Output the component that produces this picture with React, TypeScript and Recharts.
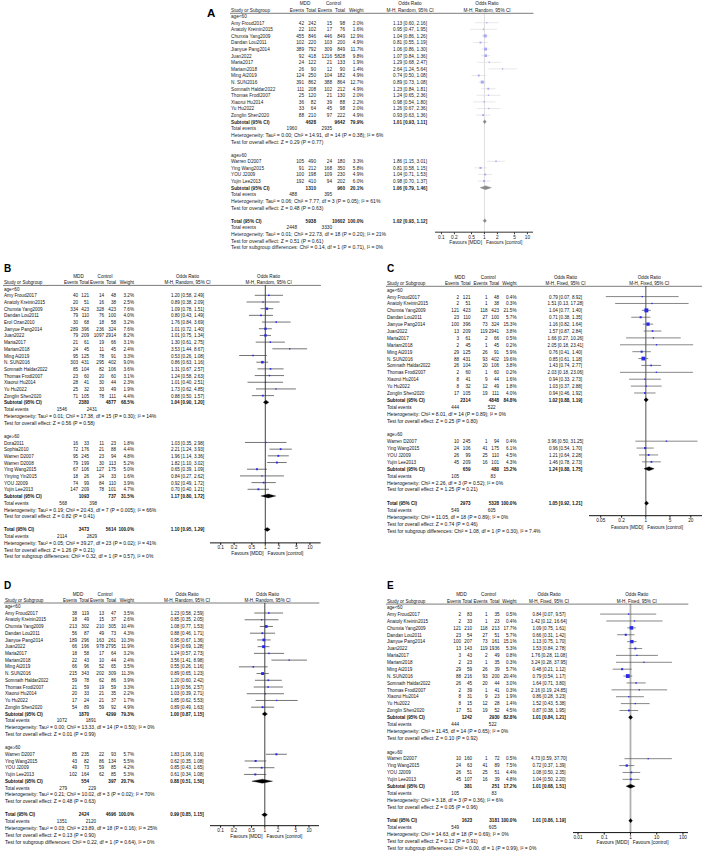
import React from 'react';
import { ScatterChart, Scatter, XAxis, YAxis, ReferenceLine } from 'recharts';

type Study = [string, number, number, number, number, number, number, number, number];
type Summary = [number, number, number, number, number, number, number, number];

const FONT = "'Liberation Sans', Arial, Helvetica, sans-serif";
const GROUPS = ['age<60', 'age≥60'];

const TICKS_RANDOM = [0.1, 0.2, 0.5, 1, 2, 5, 10];
const TICKS_C = [0.05, 0.2, 1, 5, 20];
const TICKS_E = [0.01, 0.1, 1, 10, 100];

// ---------- Panel A ----------
const A_YOUNG: Study[] = [
  ['Amy Froud2017', 42, 242, 15, 98, 2.0, 1.13, 0.6, 2.16],
  ['Anatoly Kreinin2015', 22, 102, 17, 76, 1.6, 0.95, 0.47, 1.95],
  ['Chunxia Yang2009', 455, 846, 446, 849, 12.9, 1.04, 0.86, 1.26],
  ['Dandan Lou2011', 102, 220, 103, 200, 4.9, 0.81, 0.55, 1.19],
  ['Jianyue Pang2014', 389, 792, 309, 849, 11.7, 1.06, 0.86, 1.3],
  ['Juan2022', 92, 418, 1216, 5828, 9.8, 1.07, 0.84, 1.36],
  ['Maria2017', 24, 122, 21, 133, 1.9, 1.29, 0.68, 2.47],
  ['Mariam2018', 26, 90, 12, 90, 1.4, 2.64, 1.24, 5.64],
  ['Ming Ai2019', 124, 250, 104, 182, 4.9, 0.74, 0.5, 1.08],
  ['N. SUN2016', 391, 862, 388, 864, 12.7, 0.89, 0.73, 1.08],
  ['Somnath Haldar2022', 111, 208, 102, 212, 4.9, 1.23, 0.84, 1.81],
  ['Thomas Frodl2007', 25, 120, 21, 130, 2.0, 1.24, 0.65, 2.36],
  ['Xiaorui Hu2014', 36, 82, 39, 88, 2.2, 0.98, 0.54, 1.8],
  ['Yu Hu2022', 33, 64, 45, 98, 2.0, 1.26, 0.67, 2.36],
  ['Zonglin Shen2020', 88, 210, 97, 222, 4.9, 0.93, 0.63, 1.36],
];
const A_OLD: Study[] = [
  ['Warren D2007', 105, 490, 24, 180, 3.3, 1.86, 1.15, 3.01],
  ['Ying Wang2015', 91, 212, 168, 350, 5.8, 0.81, 0.58, 1.15],
  ['YOU J2009', 100, 198, 109, 230, 4.9, 1.04, 0.71, 1.53],
  ['Yujin Lee2013', 192, 410, 94, 202, 6.0, 0.98, 0.7, 1.37],
];
const A_SUMMARY: Summary[] = [
  [4628, 9642, 79.9, 1.01, 0.93, 1.11, 1960, 2935],
  [1310, 960, 20.1, 1.06, 0.79, 1.46, 488, 395],
  [5938, 10602, 100.0, 1.02, 0.93, 1.12, 2448, 3330],
];
const A_HET = [
  'Heterogeneity: Tau² = 0.00; Chi² = 14.91, df = 14 (P = 0.38); I² = 6%',
  'Heterogeneity: Tau² = 0.06; Chi² = 7.77, df = 3 (P = 0.05); I² = 61%',
  'Heterogeneity: Tau² = 0.01; Chi² = 22.73, df = 18 (P = 0.20); I² = 21%',
];
const A_OVERALL = [
  'Test for overall effect: Z = 0.29 (P = 0.77)',
  'Test for overall effect: Z = 0.48 (P = 0.63)',
  'Test for overall effect: Z = 0.51 (P = 0.61)',
];
const A_SUBGROUP = 'Test for subgroup differences: Chi² = 0.14, df = 1 (P = 0.71), I² = 0%';

// ---------- Panel B ----------
const B_YOUNG: Study[] = [
  ['Amy Froud2017', 40, 121, 14, 48, 3.2, 1.2, 0.58, 2.49],
  ['Anatoly Kreinin2015', 20, 51, 16, 38, 2.5, 0.89, 0.38, 2.09],
  ['Chunxia Yang2009', 334, 423, 328, 423, 7.6, 1.09, 0.78, 1.51],
  ['Dandan Lou2011', 79, 110, 76, 100, 4.0, 0.8, 0.43, 1.49],
  ['Erol Ozan2010', 30, 68, 18, 58, 3.2, 1.76, 0.84, 3.69],
  ['Jianyue Pang2014', 289, 396, 236, 324, 7.6, 1.01, 0.72, 1.4],
  ['Juan2022', 79, 209, 1097, 2914, 8.2, 1.01, 0.75, 1.34],
  ['Maria2017', 21, 61, 19, 66, 3.1, 1.3, 0.61, 2.75],
  ['Mariam2018', 24, 45, 11, 45, 2.4, 3.53, 1.44, 8.67],
  ['Ming Ai2019', 95, 125, 78, 91, 3.3, 0.53, 0.26, 1.08],
  ['N. SUN2016', 303, 431, 295, 402, 9.0, 0.86, 0.63, 1.16],
  ['Somnath Haldar2022', 85, 104, 82, 106, 3.6, 1.31, 0.67, 2.57],
  ['Thomas Frodl2007', 23, 60, 20, 60, 3.1, 1.24, 0.58, 2.63],
  ['Xiaorui Hu2014', 28, 41, 30, 44, 2.3, 1.01, 0.4, 2.51],
  ['Yu Hu2022', 25, 32, 33, 49, 1.9, 1.73, 0.62, 4.85],
  ['Zonglin Shen2020', 71, 105, 78, 111, 4.4, 0.88, 0.5, 1.57],
];
const B_OLD: Study[] = [
  ['Dora2011', 16, 33, 11, 23, 1.8, 1.03, 0.35, 2.98],
  ['Sophia2010', 72, 176, 21, 88, 4.4, 2.21, 1.24, 3.93],
  ['Warren D2007', 95, 245, 23, 94, 4.8, 1.96, 1.14, 3.36],
  ['Warren D2008', 79, 199, 30, 113, 5.2, 1.82, 1.1, 3.02],
  ['Ying Wang2015', 67, 106, 127, 175, 5.0, 0.65, 0.39, 1.09],
  ['Yinying Yin2015', 18, 26, 24, 33, 1.6, 0.84, 0.27, 2.62],
  ['YOU J2009', 74, 99, 84, 110, 3.9, 0.92, 0.49, 1.72],
  ['Yujin Lee2013', 147, 209, 78, 101, 4.7, 0.7, 0.4, 1.21],
];
const B_SUMMARY: Summary[] = [
  [2380, 4877, 68.5, 1.04, 0.9, 1.2, 1546, 2431],
  [1093, 737, 31.5, 1.17, 0.8, 1.72, 568, 398],
  [3473, 5614, 100.0, 1.1, 0.95, 1.29, 2114, 2829],
];
const B_HET = [
  'Heterogeneity: Tau² = 0.01; Chi² = 17.38, df = 15 (P = 0.30); I² = 14%',
  'Heterogeneity: Tau² = 0.19; Chi² = 20.43, df = 7 (P = 0.005); I² = 66%',
  'Heterogeneity: Tau² = 0.05; Chi² = 39.27, df = 23 (P = 0.02); I² = 41%',
];
const B_OVERALL = [
  'Test for overall effect: Z = 0.56 (P = 0.58)',
  'Test for overall effect: Z = 0.82 (P = 0.41)',
  'Test for overall effect: Z = 1.26 (P = 0.21)',
];
const B_SUBGROUP = 'Test for subgroup differences: Chi² = 0.32, df = 1 (P = 0.57), I² = 0%';

// ---------- Panel C ----------
const C_YOUNG: Study[] = [
  ['Amy Froud2017', 2, 121, 1, 48, 0.4, 0.79, 0.07, 8.92],
  ['Anatoly Kreinin2015', 2, 51, 1, 38, 0.3, 1.51, 0.13, 17.28],
  ['Chunxia Yang2009', 121, 423, 118, 423, 21.5, 1.04, 0.77, 1.4],
  ['Dandan Lou2011', 23, 110, 27, 100, 5.7, 0.71, 0.38, 1.35],
  ['Jianyue Pang2014', 100, 396, 73, 324, 15.3, 1.16, 0.82, 1.64],
  ['Juan2022', 13, 209, 119, 2941, 3.8, 1.57, 0.87, 2.84],
  ['Maria2017', 3, 61, 2, 66, 0.5, 1.66, 0.27, 10.26],
  ['Mariam2018', 2, 45, 1, 45, 0.2, 2.05, 0.18, 23.41],
  ['Ming Ai2019', 29, 125, 26, 91, 5.9, 0.76, 0.41, 1.4],
  ['N. SUN2016', 88, 431, 93, 402, 19.6, 0.85, 0.61, 1.18],
  ['Somnath Haldar2022', 26, 104, 20, 106, 3.8, 1.43, 0.74, 2.77],
  ['Thomas Frodl2007', 2, 60, 1, 60, 0.2, 2.03, 0.18, 23.06],
  ['Xiaorui Hu2014', 8, 41, 9, 44, 1.6, 0.94, 0.33, 2.73],
  ['Yu Hu2022', 8, 32, 12, 49, 1.8, 1.03, 0.37, 2.88],
  ['Zonglin Shen2020', 17, 105, 19, 111, 4.0, 0.94, 0.46, 1.92],
];
const C_OLD: Study[] = [
  ['Warren D2007', 10, 245, 1, 94, 0.4, 3.96, 0.5, 31.25],
  ['Ying Wang2015', 24, 106, 41, 175, 6.1, 0.96, 0.54, 1.7],
  ['YOU J2009', 26, 99, 25, 110, 4.5, 1.21, 0.64, 2.28],
  ['Yujin Lee2013', 45, 209, 16, 101, 4.3, 1.46, 0.78, 2.73],
];
const C_SUMMARY: Summary[] = [
  [2314, 4848, 84.8, 1.02, 0.88, 1.19, 444, 522],
  [659, 480, 15.2, 1.24, 0.88, 1.75, 105, 83],
  [2973, 5328, 100.0, 1.05, 0.92, 1.21, 549, 605],
];
const C_HET = [
  'Heterogeneity: Chi² = 8.01, df = 14 (P = 0.89); I² = 0%',
  'Heterogeneity: Chi² = 2.26, df = 3 (P = 0.52); I² = 0%',
  'Heterogeneity: Chi² = 11.05, df = 18 (P = 0.89); I² = 0%',
];
const C_OVERALL = [
  'Test for overall effect: Z = 0.25 (P = 0.80)',
  'Test for overall effect: Z = 1.25 (P = 0.21)',
  'Test for overall effect: Z = 0.74 (P = 0.46)',
];
const C_SUBGROUP = 'Test for subgroup differences: Chi² = 1.08, df = 1 (P = 0.30), I² = 7.4%';

// ---------- Panel D ----------
const D_YOUNG: Study[] = [
  ['Amy Froud2017', 38, 119, 13, 47, 3.5, 1.23, 0.58, 2.59],
  ['Anatoly Kreinin2015', 18, 49, 15, 37, 2.6, 0.85, 0.35, 2.05],
  ['Chunxia Yang2009', 213, 302, 210, 305, 10.4, 1.08, 0.77, 1.53],
  ['Dandan Lou2011', 56, 87, 49, 73, 4.3, 0.88, 0.46, 1.71],
  ['Jianyue Pang2014', 189, 296, 163, 261, 10.3, 0.95, 0.67, 1.36],
  ['Juan2022', 66, 196, 978, 2795, 11.9, 0.94, 0.69, 1.28],
  ['Maria2017', 18, 58, 17, 64, 3.2, 1.24, 0.57, 2.73],
  ['Mariam2018', 22, 43, 10, 44, 2.4, 3.56, 1.41, 8.98],
  ['Ming Ai2019', 66, 96, 52, 65, 3.5, 0.55, 0.26, 1.16],
  ['N. SUN2016', 215, 343, 202, 309, 11.3, 0.89, 0.65, 1.23],
  ['Somnath Haldar2022', 59, 78, 62, 86, 3.9, 1.2, 0.6, 2.42],
  ['Thomas Frodl2007', 21, 59, 19, 59, 3.3, 1.19, 0.56, 2.57],
  ['Xiaorui Hu2014', 20, 33, 21, 35, 2.2, 1.03, 0.39, 2.71],
  ['Yu Hu2022', 17, 24, 21, 37, 1.7, 1.85, 0.62, 5.53],
  ['Zonglin Shen2020', 54, 89, 59, 92, 4.9, 0.89, 0.49, 1.63],
];
const D_OLD: Study[] = [
  ['Warren D2007', 85, 235, 22, 93, 5.7, 1.83, 1.06, 3.16],
  ['Ying Wang2015', 43, 82, 86, 134, 5.5, 0.62, 0.35, 1.08],
  ['YOU J2009', 49, 73, 59, 85, 4.2, 0.85, 0.43, 1.65],
  ['Yujin Lee2013', 102, 164, 62, 85, 5.3, 0.61, 0.34, 1.08],
];
const D_SUMMARY: Summary[] = [
  [1870, 4299, 79.3, 1.0, 0.87, 1.15, 1072, 1891],
  [554, 397, 20.7, 0.88, 0.51, 1.5, 279, 229],
  [2424, 4696, 100.0, 0.99, 0.85, 1.15, 1351, 2120],
];
const D_HET = [
  'Heterogeneity: Tau² = 0.00; Chi² = 13.33, df = 14 (P = 0.50); I² = 0%',
  'Heterogeneity: Tau² = 0.21; Chi² = 10.02, df = 3 (P = 0.02); I² = 70%',
  'Heterogeneity: Tau² = 0.03; Chi² = 23.89, df = 18 (P = 0.16); I² = 25%',
];
const D_OVERALL = [
  'Test for overall effect: Z = 0.01 (P = 0.99)',
  'Test for overall effect: Z = 0.48 (P = 0.63)',
  'Test for overall effect: Z = 0.13 (P = 0.90)',
];
const D_SUBGROUP = 'Test for subgroup differences: Chi² = 0.22, df = 1 (P = 0.64), I² = 0%';

// ---------- Panel E ----------
const E_YOUNG: Study[] = [
  ['Amy Froud2017', 2, 83, 1, 35, 0.5, 0.84, 0.07, 9.57],
  ['Anatoly Kreinin2015', 2, 33, 1, 23, 0.4, 1.42, 0.12, 16.64],
  ['Chunxia Yang2009', 121, 210, 118, 213, 17.7, 1.09, 0.75, 1.61],
  ['Dandan Lou2011', 23, 54, 27, 51, 5.7, 0.66, 0.31, 1.42],
  ['Jianyue Pang2014', 100, 207, 73, 161, 15.1, 1.13, 0.75, 1.7],
  ['Juan2022', 13, 143, 119, 1936, 5.3, 1.53, 0.84, 2.78],
  ['Maria2017', 3, 43, 2, 49, 0.8, 1.76, 0.28, 11.08],
  ['Mariam2018', 2, 23, 1, 35, 0.3, 3.24, 0.28, 37.95],
  ['Ming Ai2019', 29, 59, 26, 39, 5.7, 0.48, 0.21, 1.12],
  ['N. SUN2016', 88, 216, 93, 200, 20.4, 0.79, 0.54, 1.17],
  ['Somnath Haldar2022', 26, 45, 20, 44, 3.0, 1.64, 0.71, 3.8],
  ['Thomas Frodl2007', 2, 39, 1, 41, 0.3, 2.16, 0.19, 24.85],
  ['Xiaorui Hu2014', 8, 31, 9, 23, 1.9, 0.86, 0.28, 3.23],
  ['Yu Hu2022', 8, 15, 12, 28, 1.4, 1.52, 0.43, 5.38],
  ['Zonglin Shen2020', 17, 51, 19, 52, 4.5, 0.87, 0.38, 1.95],
];
const E_OLD: Study[] = [
  ['Warren D2007', 10, 160, 1, 72, 0.5, 4.73, 0.59, 37.7],
  ['Ying Wang2015', 24, 63, 41, 89, 7.5, 0.72, 0.37, 1.39],
  ['YOU J2009', 26, 51, 25, 51, 4.4, 1.08, 0.5, 2.35],
  ['Yujin Lee2013', 45, 107, 16, 39, 4.8, 1.04, 0.5, 2.2],
];
const E_SUMMARY: Summary[] = [
  [1242, 2930, 82.8, 1.01, 0.84, 1.21, 444, 522],
  [381, 251, 17.2, 1.01, 0.68, 1.51, 105, 83],
  [1623, 3181, 100.0, 1.01, 0.86, 1.19, 549, 605],
];
const E_HET = [
  'Heterogeneity: Chi² = 11.45, df = 14 (P = 0.65); I² = 0%',
  'Heterogeneity: Chi² = 3.18, df = 3 (P = 0.36); I² = 6%',
  'Heterogeneity: Chi² = 14.63, df = 18 (P = 0.69); I² = 0%',
];
const E_OVERALL = [
  'Test for overall effect: Z = 0.10 (P = 0.92)',
  'Test for overall effect: Z = 0.05 (P = 0.96)',
  'Test for overall effect: Z = 0.12 (P = 0.91)',
];
const E_SUBGROUP = 'Test for subgroup differences: Chi² = 0.00, df = 1 (P = 0.99), I² = 0%';

// ---------- Panel data bundles ----------
const PANELS_DATA = {
  A: { young: A_YOUNG, old: A_OLD, summary: A_SUMMARY, het: A_HET, overall: A_OVERALL, subgroup: A_SUBGROUP, method: 'Random', ticks: TICKS_RANDOM },
  B: { young: B_YOUNG, old: B_OLD, summary: B_SUMMARY, het: B_HET, overall: B_OVERALL, subgroup: B_SUBGROUP, method: 'Random', ticks: TICKS_RANDOM },
  C: { young: C_YOUNG, old: C_OLD, summary: C_SUMMARY, het: C_HET, overall: C_OVERALL, subgroup: C_SUBGROUP, method: 'Fixed', ticks: TICKS_C },
  D: { young: D_YOUNG, old: D_OLD, summary: D_SUMMARY, het: D_HET, overall: D_OVERALL, subgroup: D_SUBGROUP, method: 'Random', ticks: TICKS_RANDOM },
  E: { young: E_YOUNG, old: E_OLD, summary: E_SUMMARY, het: E_HET, overall: E_OVERALL, subgroup: E_SUBGROUP, method: 'Fixed', ticks: TICKS_E },
};

// ---------- Layout (positions & styles) ----------
const STYLE_DARK = { textFill: '#111', nullStroke: '#111', nullWidth: 0.8, ciStroke: '#3a3a3a', ciWidth: 0.7, sqFill: '#2a2ae6', diamondFill: '#000', axisStroke: '#111' };
const STYLE_GRAY = { textFill: '#111', nullStroke: '#8a8a8a', nullWidth: 1.5, ciStroke: '#555', ciWidth: 0.7, sqFill: '#2a2ae6', diamondFill: '#000', axisStroke: '#111' };
const STYLE_FAINT = { textFill: '#1a1a1a', nullStroke: '#c8c8c8', nullWidth: 0.6, ciStroke: '#d0d0d0', ciWidth: 0.5, sqFill: '#a8a8f0', diamondFill: '#8a8a8a', axisStroke: '#333' };

const LAYOUTS: Record<string, any> = {
  A: { ...STYLE_FAINT, label: 'A', labelX: 207, labelY: 16.5, labelSize: 11.5, fs: 5.1, nameX: 231, ev1R: 304, tot1R: 316, ev2R: 332, tot2R: 345, wR: 363.5, orC: 410, y0: 16.4, p: 6.6, h1Y: 3.8, h2Y: 10.3, ulY: 13.3, x1: 484, ppd: 43, ext: 0.15, axisY: 232.5, favY: 242, teOff1: -7, teOff2: 0, dh: 0.3, hdrOff: 3 },
  B: { ...STYLE_DARK, label: 'B', labelX: 4, labelY: 272, labelSize: 10, fs: 5.0, nameX: 4, ev1R: 78, tot1R: 89, ev2R: 104, tot2R: 116, wR: 134, orC: 187.5, y0: 289, p: 6.69, h1Y: 276.3, h2Y: 282.4, ulY: 285.4, x1: 265.6, ppd: 44.6, ext: 0.24, axisY: 543.3, favY: 553, teOff1: -11, teOff2: -7, dh: 0.3, hdrOff: 3 },
  C: { ...STYLE_GRAY, label: 'C', labelX: 387, labelY: 272, labelSize: 10, fs: 5.0, nameX: 387, ev1R: 459, tot1R: 470.5, ev2R: 487.5, tot2R: 499, wR: 516.5, orC: 565.5, y0: 290, p: 6.886, h1Y: 277, h2Y: 283.2, ulY: 286.3, x1: 645.3, ppd: 34.6, ext: 0.34, axisY: 516, favY: 527, teOff1: 0, teOff2: 8, dh: 0.3, hdrOff: 4 },
  D: { ...STYLE_DARK, label: 'D', labelX: 4, labelY: 588.5, labelSize: 10, fs: 5.0, nameX: 5, ev1R: 77, tot1R: 89, ev2R: 104, tot2R: 116, wR: 134, orC: 187, y0: 606.3, p: 6.726, h1Y: 594, h2Y: 600.1, ulY: 603, x1: 264.5, ppd: 44.2, ext: 0.24, axisY: 825.7, favY: 836.7, teOff1: -10, teOff2: -8, dh: 0.3, hdrOff: 3 },
  E: { ...STYLE_GRAY, nullStroke: '#b0b0b0', nullWidth: 1.8, label: 'E', labelX: 387, labelY: 589, labelSize: 10, fs: 5.0, nameX: 387, ev1R: 461, tot1R: 472, ev2R: 487.5, tot2R: 499.5, wR: 516.5, orC: 549, y0: 607.3, p: 6.886, h1Y: 594.7, h2Y: 601.1, ulY: 604.1, x1: 630.8, ppd: 26.25, ext: 0.19, axisY: 832.7, favY: 842.3, teOff1: -2, teOff2: 9, dh: 0.3, hdrOff: 6 },
};

const fmtOR = (o: number, l: number, h: number) => `${o.toFixed(2)} [${l.toFixed(2)}, ${h.toFixed(2)}]`;
const fmtW = (w: number) => `${w.toFixed(1)}%`;

function geometry(L: any, D: any) {
  const dmin = D.ticks[0] / Math.pow(10, L.ext);
  const dmax = D.ticks[D.ticks.length - 1] * Math.pow(10, L.ext);
  const axL = L.x1 + L.ppd * Math.log10(dmin);
  const axR = L.x1 + L.ppd * Math.log10(dmax);
  return { dmin, dmax, axL, axR };
}

function rowIndices(D: any) {
  const n1 = D.young.length;
  const n2 = D.old.length;
  return { g1: 0, s1: n1 + 1, g2: n1 + 6, s2: n1 + n2 + 7, tot: n1 + n2 + 12, sub: n1 + n2 + 16 };
}

function ForestPlot({ L, D }: { L: any; D: any }) {
  const { dmin, dmax, axL, axR } = geometry(L, D);
  const R = rowIndices(D);
  const XH = 12;
  const W = axR - axL;
  const H = L.axisY - L.ulY + XH;
  const yDom = [(L.ulY - L.y0) / L.p, (L.axisY - L.y0) / L.p];
  const pts = [
    ...D.young.map((s: Study, i: number) => ({ x: s[6], y: R.g1 + 1 + i, w: s[5], lo: s[7], hi: s[8] })),
    ...D.old.map((s: Study, i: number) => ({ x: s[6], y: R.g2 + 1 + i, w: s[5], lo: s[7], hi: s[8] })),
  ];
  const diamondRows = [R.s1, R.s2, R.tot];
  const square = (props: any) => {
    const { cx, cy, payload } = props;
    if (cx == null || cy == null) return <g />;
    const s = Math.max(1.3, 0.85 * Math.sqrt(payload.w));
    return <rect x={cx - s / 2} y={cy - s / 2} width={s} height={s} fill={L.sqFill} />;
  };
  const diamondLine = (lp: any) => {
    const p = (lp && lp.points) || [];
    return <polygon points={p.map((q: any) => `${q.x},${q.y}`).join(' ')} fill={L.diamondFill} stroke={L.diamondFill} strokeWidth={0.3} />;
  };
  return (
    <div style={{ position: 'absolute', left: axL, top: L.ulY, width: W, height: H }}>
      <ScatterChart width={W} height={H} margin={{ top: 0, right: 0, bottom: 0, left: 0 }}>
        <XAxis
          type="number"
          dataKey="x"
          scale="log"
          domain={[dmin, dmax]}
          allowDataOverflow
          ticks={D.ticks}
          interval={0}
          tickSize={2}
          tickMargin={1}
          height={XH}
          stroke={L.axisStroke}
          tick={{ fontSize: L.fs * 0.94, fill: L.textFill, fontFamily: FONT }}
          tickFormatter={(v: number) => String(v)}
        />
        <YAxis type="number" dataKey="y" hide domain={yDom} reversed allowDataOverflow />
        <ReferenceLine x={1} stroke={L.nullStroke} strokeWidth={L.nullWidth} ifOverflow="visible" />
        {pts.map((pt: any, k: number) => (
          <ReferenceLine
            key={'ci' + k}
            segment={[{ x: pt.lo, y: pt.y }, { x: pt.hi, y: pt.y }]}
            stroke={L.ciStroke}
            strokeWidth={L.ciWidth}
            ifOverflow="visible"
          />
        ))}
        <Scatter data={pts} isAnimationActive={false} shape={square} />
        {D.summary.map((s: Summary, k: number) => (
          <Scatter
            key={'dm' + k}
            data={[
              { x: s[4], y: diamondRows[k] },
              { x: s[3], y: diamondRows[k] - L.dh },
              { x: s[5], y: diamondRows[k] },
              { x: s[3], y: diamondRows[k] + L.dh },
            ]}
            isAnimationActive={false}
            shape={() => <g />}
            line={diamondLine}
            lineType="joint"
          />
        ))}
      </ScatterChart>
    </div>
  );
}

function TableText({ L, D }: { L: any; D: any }) {
  const { axR } = geometry(L, D);
  const R = rowIndices(D);
  const rY = (i: number) => L.y0 + i * L.p;
  const items: React.ReactNode[] = [];
  let k = 0;
  const cs = L.fs * 0.92; // cell font (names, numbers, headers)
  const T = (x: number, y: number, s: string, anchor: string = 'start', bold = false, size: number = cs) => {
    items.push(
      <text key={k++} x={x} y={y + size * 0.36} fontSize={size} textAnchor={anchor as any} fontWeight={bold ? 700 : 400} fill={L.textFill}>
        {s}
      </text>
    );
  };
  const plotC = L.x1 + L.hdrOff;
  items.push(
    <text key={k++} x={L.labelX} y={L.labelY} fontSize={L.labelSize} fontWeight={700} fill="#000">
      {L.label}
    </text>
  );
  T((L.ev1R + L.tot1R) / 2 - 5, L.h1Y, 'MDD', 'middle');
  T((L.ev2R + L.tot2R) / 2 - 5, L.h1Y, 'Control', 'middle');
  T(L.orC, L.h1Y, 'Odds Ratio', 'middle');
  T(plotC, L.h1Y, 'Odds Ratio', 'middle');
  const m = `M-H, ${D.method}, 95% CI`;
  T(L.nameX, L.h2Y, 'Study or Subgroup');
  T(L.ev1R, L.h2Y, 'Events', 'end');
  T(L.tot1R, L.h2Y, 'Total', 'end');
  T(L.ev2R, L.h2Y, 'Events', 'end');
  T(L.tot2R, L.h2Y, 'Total', 'end');
  T(L.wR, L.h2Y, 'Weight', 'end');
  T(L.orC, L.h2Y, m, 'middle');
  T(plotC, L.h2Y, m, 'middle');
  items.push(<line key={k++} x1={L.nameX - 1} x2={axR} y1={L.ulY} y2={L.ulY} stroke="#222" strokeWidth={0.6} />);

  const summaryBlock = (sum: Summary, idx: number, label: string, het: string, overall: string) => {
    const y = rY(idx);
    T(L.nameX, y, label, 'start', true);
    T(L.tot1R, y, String(sum[0]), 'end', true);
    T(L.tot2R, y, String(sum[1]), 'end', true);
    T(L.wR, y, fmtW(sum[2]), 'end', true);
    T(L.orC, y, fmtOR(sum[3], sum[4], sum[5]), 'middle', true);
    const y2 = rY(idx + 1);
    T(L.nameX, y2, 'Total events');
    T(L.ev1R + L.teOff1, y2, String(sum[6]), 'end');
    T(L.ev2R + L.teOff2, y2, String(sum[7]), 'end');
    T(L.nameX, rY(idx + 2), het, 'start', false, L.fs);
    T(L.nameX, rY(idx + 3), overall, 'start', false, L.fs);
  };
  const section = (studies: Study[], g: number, s: number, gi: number) => {
    T(L.nameX, rY(g), GROUPS[gi]);
    studies.forEach((st, i) => {
      const y = rY(g + 1 + i);
      T(L.nameX, y, st[0]);
      T(L.ev1R, y, String(st[1]), 'end');
      T(L.tot1R, y, String(st[2]), 'end');
      T(L.ev2R, y, String(st[3]), 'end');
      T(L.tot2R, y, String(st[4]), 'end');
      T(L.wR, y, fmtW(st[5]), 'end');
      T(L.orC, y, fmtOR(st[6], st[7], st[8]), 'middle');
    });
    summaryBlock(D.summary[gi], s, 'Subtotal (95% CI)', D.het[gi], D.overall[gi]);
  };
  section(D.young, R.g1, R.s1, 0);
  section(D.old, R.g2, R.s2, 1);
  summaryBlock(D.summary[2], R.tot, 'Total (95% CI)', D.het[2], D.overall[2]);
  T(L.nameX, rY(R.sub), D.subgroup, 'start', false, L.fs);
  T(L.x1 - 2, L.favY, 'Favours [MDD]', 'end', false, L.fs * 0.96);
  T(L.x1 + 2, L.favY, 'Favours [control]', 'start', false, L.fs * 0.96);
  return <g>{items}</g>;
}

const ORDER = ['A', 'B', 'C', 'D', 'E'];

export default function App() {
  return (
    <div style={{ position: 'absolute', left: 0, top: 0, width: 708, height: 852, background: '#fff', overflow: 'hidden', fontFamily: FONT }}>
      {ORDER.map((key) => (
        <ForestPlot key={'p' + key} L={LAYOUTS[key]} D={(PANELS_DATA as any)[key]} />
      ))}
      <svg width={708} height={852} style={{ position: 'absolute', left: 0, top: 0, pointerEvents: 'none' }} fontFamily={FONT}>
        {ORDER.map((key) => (
          <TableText key={'t' + key} L={LAYOUTS[key]} D={(PANELS_DATA as any)[key]} />
        ))}
      </svg>
    </div>
  );
}
